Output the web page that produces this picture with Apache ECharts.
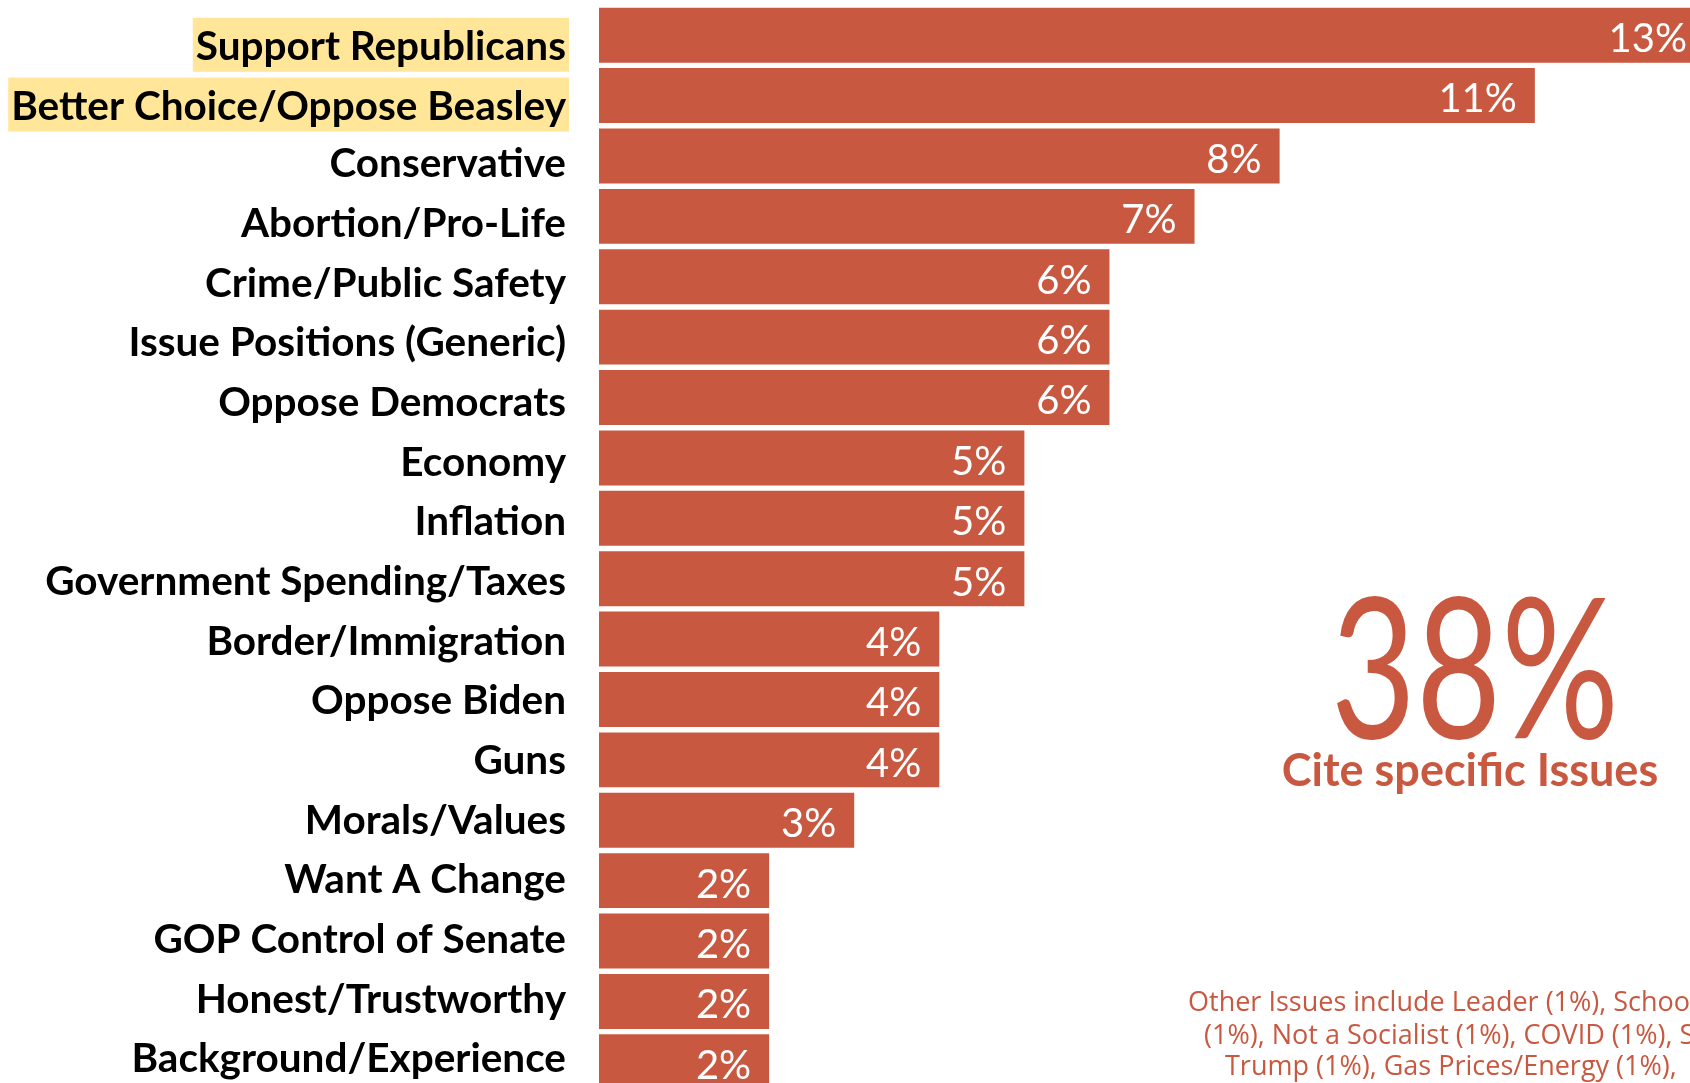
<!DOCTYPE html>
<html>
<head>
<meta charset="utf-8">
<script src="https://cdn.jsdelivr.net/npm/echarts@6/dist/echarts.min.js"></script>
<style>
  html, body { margin: 0; padding: 0; background: #fff; }
  #chart { width: 1690px; height: 1083px; }
</style>
</head>
<body>
<div id="chart"></div>
<script>
const categories = [
  'Support Republicans', 'Better Choice/Oppose Beasley', 'Conservative', 'Abortion/Pro-Life',
  'Crime/Public Safety', 'Issue Positions (Generic)', 'Oppose Democrats', 'Economy',
  'Inflation', 'Government Spending/Taxes', 'Border/Immigration', 'Oppose Biden',
  'Guns', 'Morals/Values', 'Want A Change', 'GOP Control of Senate',
  'Honest/Trustworthy', 'Background/Experience'
]
const values = [13, 11, 8, 7, 6, 6, 6, 5, 5, 5, 4, 4, 4, 3, 2, 2, 2, 2]
const highlighted = ['Support Republicans', 'Better Choice/Oppose Beasley']
const totalLabel = '38%'
const totalCaption = 'Cite specific Issues'
const otherLines = [
  'Other Issues include Leader (1%), Schools',
  '(1%), Not a Socialist (1%), COVID (1%), Social',
  'Trump (1%), Gas Prices/Energy (1%), '
]

const red = '#C8583F'
const chart = echarts.init(document.getElementById('chart'))

const labelFont = {
  fontFamily: 'Lato',
  fontWeight: 'bold',
  fontSize: 40.5,
  color: '#000',
  lineHeight: 46
}

const option = {
  backgroundColor: '#fff',
  animation: false,
  grid: [
    // bars
    { left: 599, top: 5, width: 1106, height: 1087, outerBoundsMode: 'none' },
    // category text column (a touch tighter than the bars, as in the slide)
    { left: 599, top: 15, width: 10, height: 1074, outerBoundsMode: 'none' }
  ],
  xAxis: [
    { type: 'value', min: 0, max: 13, show: false, gridIndex: 0 },
    { type: 'value', min: 0, max: 1, show: false, gridIndex: 1 }
  ],
  yAxis: [
    {
      type: 'category',
      gridIndex: 0,
      inverse: true,
      data: categories,
      axisLine: { show: false },
      axisTick: { show: false },
      axisLabel: { show: false }
    },
    {
      type: 'category',
      gridIndex: 1,
      inverse: true,
      data: categories,
      axisLine: { show: false },
      axisTick: { show: false },
      axisLabel: {
        margin: 30,
        formatter: function (v) {
          return highlighted.indexOf(v) >= 0 ? '{hl|' + v + '}' : '{n|' + v + '}'
        },
        rich: {
          n: Object.assign({ padding: [0, 3, 0, 0] }, labelFont),
          hl: Object.assign({ backgroundColor: '#FFE699', height: 46, padding: [6, 3, 2, 3] }, labelFont)
        }
      }
    }
  ],
  series: [{
    type: 'bar',
    xAxisIndex: 0,
    yAxisIndex: 0,
    data: values,
    barCategoryGap: '9%',
    itemStyle: { color: red },
    label: {
      show: true,
      position: 'insideRight',
      distance: 18,
      padding: [12, 0, 0, 0],
      offset: [0, 4],
      formatter: '{c}%',
      color: '#fff',
      fontFamily: 'Lato',
      fontSize: 40
    }
  }],
  graphic: [
    {
      type: 'text',
      x: 1475,
      y: 675,
      scaleX: 0.75,
      style: {
        text: totalLabel,
        fill: red,
        font: '196px Lato',
        textAlign: 'center',
        textVerticalAlign: 'middle'
      }
    },
    {
      type: 'text',
      x: 1470,
      y: 771,
      style: {
        text: totalCaption,
        fill: red,
        font: 'bold 45px Lato',
        textAlign: 'center',
        textVerticalAlign: 'middle'
      }
    },
    {
      type: 'text', x: 1188, y: 1003,
      style: { text: otherLines[0], fill: red, font: '27px "Open Sans"', textVerticalAlign: 'middle' }
    },
    {
      type: 'text', x: 1204, y: 1036,
      style: { text: otherLines[1], fill: red, font: '27px "Open Sans"', textVerticalAlign: 'middle' }
    },
    {
      type: 'text', x: 1225, y: 1067,
      style: { text: otherLines[2], fill: red, font: '27px "Open Sans"', textVerticalAlign: 'middle' }
    }
  ]
}

chart.setOption(option)
</script>
</body>
</html>
